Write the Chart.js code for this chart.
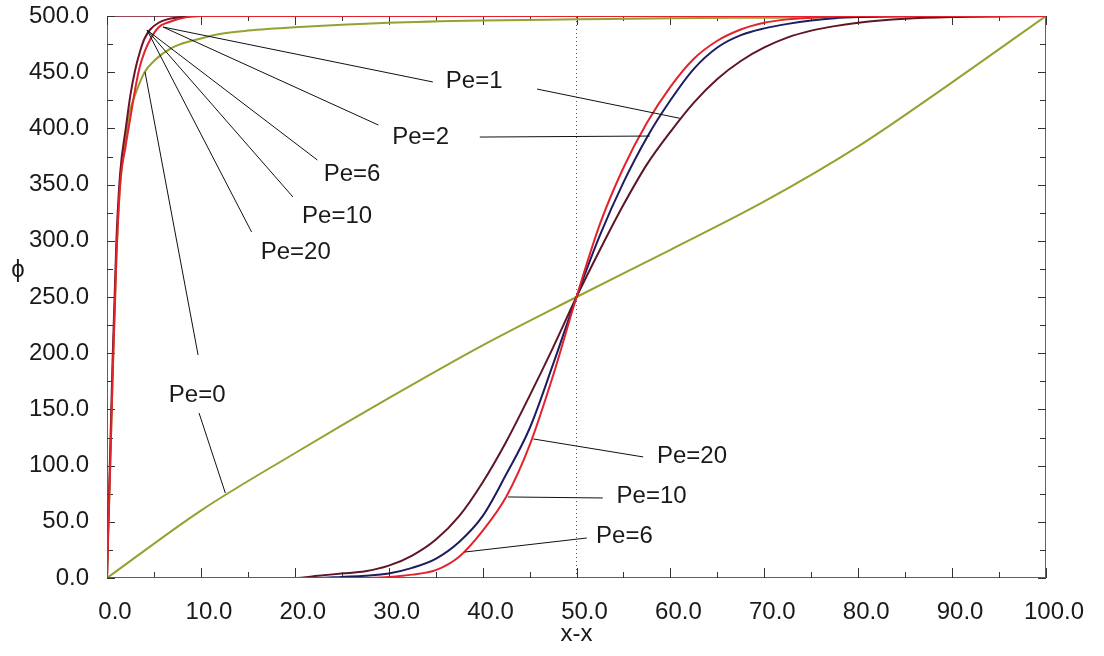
<!DOCTYPE html>
<html>
<head>
<meta charset="utf-8">
<script src="https://cdn.jsdelivr.net/npm/chart.js@4.4.1/dist/chart.umd.min.js"></script>
<style>
  html, body { margin: 0; padding: 0; background: #fff; }
  #phiChart { display: block; }
</style>
</head>
<body>
<canvas id="phiChart" width="1104" height="656"></canvas>
<script>
// x positions and phi values for the boundary-layer profiles near x = 0
var bX      = [0, 0.15, 0.3, 0.6, 1, 1.4, 2, 2.5, 3, 3.5, 4, 4.6, 5.5, 6.4, 8.5, 10, 100];
var bRed    = [0, 49, 87, 180, 285, 350, 385, 410, 435, 455, 468, 479, 490, 494, 499, 500, 500];
var bMaroon = [0, 55, 100, 195, 300, 360, 400, 430, 452, 468, 480, 488, 494, 497, 499.5, 500, 500];

var oX      = [0, 0.3, 0.6, 1, 1.4, 2, 2.4, 3, 4, 5, 7, 10, 12, 15, 20, 30, 40, 50, 60, 70, 80, 90, 100];
var oOlive  = [0, 87, 180, 285, 350, 392, 414, 430, 450, 460, 472, 480, 484, 487, 490, 494, 496, 497, 498, 498.5, 499, 499.5, 500];

// front profiles centred on x = 50
var sX      = [0, 10, 20, 22.5, 25, 27.5, 30, 32.5, 35, 37.5, 40, 42.5, 45, 47.5, 50, 52.5, 55, 57.5, 60, 62.5, 65, 67.5, 70, 72.5, 75, 77.5, 80, 85, 90, 100];
var sRed    = [0, 0, 0, 0, 0, 0, 1, 3, 7, 19, 42, 72, 118, 180, 250, 315, 365, 405, 437, 462, 478, 488, 494, 497, 498.5, 499.5, 500, 500, 500, 500];
var sBlue   = [0, 0, 0, 0, 1, 2, 4, 9, 17, 32, 55, 92, 133, 190, 250, 305, 352, 392, 425, 453, 472, 483, 489, 493, 496, 498, 499, 500, 500, 500];
var sMaroon = [0, 0, 0, 2, 4, 6, 11, 20, 34, 55, 85, 121, 162, 205, 250, 292, 332, 368, 397, 423, 444, 460, 472, 481, 487, 491, 494, 497.5, 499, 500];

// Pe = 0 profile
var pX      = [0, 10, 20, 30, 40, 50, 60, 70, 80, 90, 100];
var pOlive  = [0, 60, 111, 160, 207, 250, 292, 335, 384, 441, 500];

// dotted centre line
var midX = [50, 50];
var midY = [0, 500];

// curve labels and their leader lines
var noteText = ["Pe=1", "Pe=2", "Pe=6", "Pe=10", "Pe=20", "Pe=0", "Pe=20", "Pe=10", "Pe=6"];
var noteX    = [39.1, 33.4, 26.1, 24.5, 20.1, 9.6, 62.3, 58.0, 55.1];
var noteY    = [442.2, 392.3, 359.4, 322.0, 290.0, 162.8, 108.5, 73.0, 37.4];
var leaderFrom = [[5.96, 490.2], [45.8, 435.0], [5.96, 490.2], [39.7, 392.3], [4.26, 487.5], [4.26, 487.5],
                  [4.26, 487.5], [4.05, 450.2], [9.8, 146.8], [57.1, 107.7], [52.8, 71.2], [51.1, 35.6]];
var leaderTo   = [[34.7, 441.3], [61.0, 409.0], [28.9, 403.0], [57.8, 393.2], [22.4, 371.9], [19.8, 339.0],
                  [15.4, 307.8], [9.7, 198.4], [12.6, 75.6], [45.4, 123.7], [42.7, 72.1], [38.1, 23.1]];

var FONT = '"Liberation Sans", Arial, sans-serif';
var FRAME = "#9a4656";

function pts(xs, ys) {
  return xs.map(function (x, i) { return { x: x, y: ys[i] }; });
}

function curve(xs, ys, color) {
  return {
    data: pts(xs, ys),
    borderColor: color,
    borderWidth: 2,
    pointRadius: 0,
    cubicInterpolationMode: "monotone",
    fill: false,
  };
}

// frame, inward ticks on all four sides, leaders, labels and the phi title
var decorations = {
  id: "decorations",
  beforeDatasetsDraw: function (chart) {
    var c = chart.ctx, a = chart.chartArea;
    c.save();
    c.strokeStyle = FRAME;
    c.lineWidth = 1;
    c.strokeRect(a.left + 0.5, a.top + 0.5, a.right - a.left - 1, a.bottom - a.top - 1);

    var xs = chart.scales.x, ys = chart.scales.y;
    c.strokeStyle = "#333";
    c.beginPath();
    for (var v = 0; v <= 100; v += 5) {
      var px = Math.round(xs.getPixelForValue(v)) + 0.5;
      var len = v % 10 === 0 ? 10 : 6;
      c.moveTo(px, a.bottom); c.lineTo(px, a.bottom - len);
      c.moveTo(px, a.top); c.lineTo(px, a.top + len - 1);
    }
    for (var w = 0; w <= 500; w += 25) {
      var py = Math.round(ys.getPixelForValue(w)) + 0.5;
      var l2 = w % 50 === 0 ? 8 : 6;
      c.moveTo(a.left, py); c.lineTo(a.left + l2, py);
      c.moveTo(a.right, py); c.lineTo(a.right - l2, py);
    }
    c.stroke();
    c.restore();
  },
  afterDatasetsDraw: function (chart) {
    var c = chart.ctx, xs = chart.scales.x, ys = chart.scales.y;
    c.save();
    c.strokeStyle = "#111";
    c.lineWidth = 1;
    c.beginPath();
    leaderFrom.forEach(function (p, i) {
      var q = leaderTo[i];
      c.moveTo(xs.getPixelForValue(p[0]), ys.getPixelForValue(p[1]));
      c.lineTo(xs.getPixelForValue(q[0]), ys.getPixelForValue(q[1]));
    });
    c.stroke();

    c.fillStyle = "#1a1a1a";
    c.font = "24px " + FONT;
    c.textAlign = "center";
    c.textBaseline = "middle";
    noteText.forEach(function (t, i) {
      c.fillText(t, xs.getPixelForValue(noteX[i]), ys.getPixelForValue(noteY[i]));
    });
    c.fillText("\u03d5", 18, 270);
    c.restore();
  },
};

new Chart(document.getElementById("phiChart"), {
  type: "line",
  data: {
    datasets: [
      curve(sX, sRed, "#e3222b"),
      curve(bX, bRed, "#e3222b"),
      curve(sX, sBlue, "#1c1c60"),
      curve(sX, sMaroon, "#5e1626"),
      curve(bX, bMaroon, "#6a1428"),
      curve(oX, oOlive, "#98a030"),
      curve(pX, pOlive, "#98a030"),
      {
        data: pts(midX, midY),
        borderColor: "#555",
        borderWidth: 1,
        borderDash: [1, 3],
        pointRadius: 0,
      },
    ],
  },
  options: {
    responsive: false,
    animation: false,
    layout: { padding: { top: 16, right: 58, left: 0, bottom: 0 } },
    plugins: { legend: { display: false }, tooltip: { enabled: false } },
    scales: {
      x: {
        type: "linear",
        min: 0,
        max: 100,
        grid: { display: false },
        border: { display: false },
        ticks: {
          stepSize: 10,
          autoSkip: false,
          maxRotation: 0,
          padding: 12,
          labelOffset: 8,
          color: "#1a1a1a",
          font: { family: FONT, size: 24 },
          callback: function (v) { return v.toFixed(1); },
        },
        title: {
          display: true,
          text: "x-x",
          color: "#1a1a1a",
          font: { family: FONT, size: 24 },
          padding: { top: 0, bottom: 7 },
        },
        afterFit: function (scale) {
          scale.height = 78;
          scale.paddingLeft = 0;
          scale.paddingRight = 0;
        },
      },
      y: {
        min: 0,
        max: 500,
        grid: { display: false },
        border: { display: false },
        ticks: {
          stepSize: 50,
          padding: 10,
          color: "#1a1a1a",
          font: { family: FONT, size: 24 },
          callback: function (v) { return v.toFixed(1); },
        },
        afterFit: function (scale) {
          scale.width = 107;
          scale.paddingTop = 0;
          scale.paddingBottom = 0;
        },
      },
    },
  },
  plugins: [decorations],
});
</script>
</body>
</html>
